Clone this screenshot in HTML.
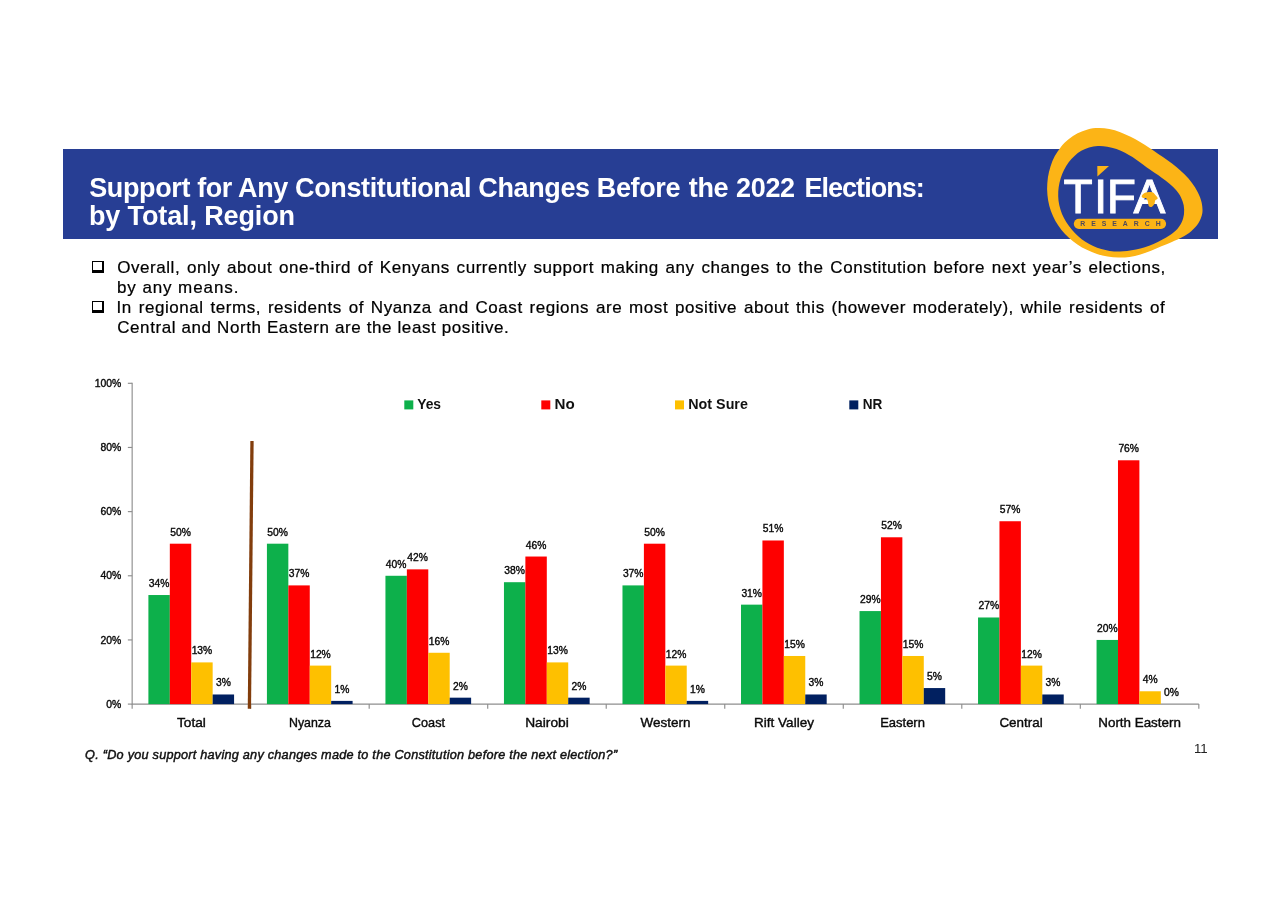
<!DOCTYPE html>
<html lang="en"><head><meta charset="utf-8"><title>Support for Any Constitutional Changes Before the 2022 Elections</title>
<style>
html,body{margin:0;padding:0;background:#fff}
body{width:1280px;height:905px;position:relative;overflow:hidden;font-family:"Liberation Sans",sans-serif;color:#000}
.abs{position:absolute;white-space:nowrap;line-height:1}
.banner{position:absolute;left:62.9px;top:149.4px;width:1155.1px;height:89.3px;background:#273e94}
.title{color:#fff;font-weight:bold;font-size:27px}
.body{font-size:17px;color:#000;-webkit-text-stroke:0.22px #000}
.just{width:1048.6px;text-align:justify;text-align-last:justify;white-space:normal}
.cb{position:absolute;box-sizing:border-box;width:12.5px;height:12px;border-style:solid;border-color:#000;border-width:1.3px 2.8px 3px 1.3px;background:#fff}
.foot{font-size:12.7px;font-style:italic;color:#111;letter-spacing:0.235px;-webkit-text-stroke:0.45px #111}
svg{position:absolute;left:0;top:0}
svg text{font-family:"Liberation Sans",sans-serif}
.dl{font-size:10.3px;fill:#0a0a0a;text-anchor:middle;stroke:#0a0a0a;stroke-width:0.38px}
.yl{font-size:10.4px;fill:#0a0a0a;text-anchor:end;stroke:#0a0a0a;stroke-width:0.38px}
.cl{font-size:13.4px;fill:#0a0a0a;text-anchor:middle;stroke:#0a0a0a;stroke-width:0.4px}
.lg{font-size:15px;font-weight:bold;fill:#111}
</style></head><body>
<div class="banner"></div>
<div class="abs title" id="t1" style="left:89.2px;top:174.5px;letter-spacing:-0.38px">Support for Any Constitutional Changes Before <span style="margin-left:1.6px">the</span> <span style="margin-left:0.8px">2022</span> <span style="margin-left:2.6px;letter-spacing:-0.95px">Elections:</span></div>
<div class="abs title" id="t2" style="left:88.9px;top:202.5px;letter-spacing:-0.12px">by Total, Region</div>
<div class="cb" style="left:91.5px;top:260.6px"></div>
<div class="cb" style="left:91.5px;top:300.8px"></div>
<div class="abs body just" id="b1" style="left:117.2px;top:258.9px;letter-spacing:0.55px">Overall, only about one-third of Kenyans currently support making any changes to the Constitution before next year’s elections,</div>
<div class="abs body" id="b2" style="left:117px;top:278.9px;letter-spacing:0.9px">by any means.</div>
<div class="abs body just" id="b3" style="left:116.6px;top:298.9px;letter-spacing:0.55px">In regional terms, residents of Nyanza and Coast regions are most positive about this (however moderately), while residents of</div>
<div class="abs body" id="b4" style="left:117.2px;top:319.1px;letter-spacing:0.6px">Central and North Eastern are the least positive.</div>
<div class="abs foot" id="fn" style="left:85.1px;top:749.4px">Q. “Do you support having any changes made to the Constitution before the next election?”</div>
<div class="abs" id="pn" style="left:1194px;top:741.8px;font-size:13.2px;color:#222">11</div>

<svg width="1280" height="905" viewBox="0 0 1280 905">
<g stroke="#8e8e8e" stroke-width="1.15" fill="none">
<path d="M132.15 382.8V704.1H1198.83"/>
<path d="M127.85000000000001 704.10H132.15"/>
<path d="M127.85000000000001 639.94H132.15"/>
<path d="M127.85000000000001 575.78H132.15"/>
<path d="M127.85000000000001 511.62H132.15"/>
<path d="M127.85000000000001 447.46H132.15"/>
<path d="M127.85000000000001 383.30H132.15"/>
<path d="M132.15 704.1V708.7"/>
<path d="M250.67 704.1V708.7"/>
<path d="M369.19 704.1V708.7"/>
<path d="M487.71 704.1V708.7"/>
<path d="M606.23 704.1V708.7"/>
<path d="M724.75 704.1V708.7"/>
<path d="M843.27 704.1V708.7"/>
<path d="M961.79 704.1V708.7"/>
<path d="M1080.31 704.1V708.7"/>
<path d="M1198.83 704.1V708.7"/>
</g>
<text class="yl" x="121.3" y="707.70">0%</text>
<text class="yl" x="121.3" y="643.54">20%</text>
<text class="yl" x="121.3" y="579.38">40%</text>
<text class="yl" x="121.3" y="515.22">60%</text>
<text class="yl" x="121.3" y="451.06">80%</text>
<text class="yl" x="121.3" y="386.90">100%</text>
<rect x="148.40" y="595.03" width="21.42" height="109.07" fill="#0db04b"/>
<text class="dl" x="159.11" y="587.03">34%</text>
<rect x="169.82" y="543.70" width="21.42" height="160.40" fill="#fe0000"/>
<text class="dl" x="180.53" y="535.70">50%</text>
<rect x="191.24" y="662.40" width="21.42" height="41.70" fill="#fec000"/>
<text class="dl" x="201.95" y="654.40">13%</text>
<rect x="212.66" y="694.48" width="21.42" height="9.62" fill="#012060"/>
<text class="dl" x="223.37" y="686.48">3%</text>
<text class="cl" x="191.41" y="727.1" textLength="28.90" lengthAdjust="spacingAndGlyphs">Total</text>
<rect x="266.92" y="543.70" width="21.42" height="160.40" fill="#0db04b"/>
<text class="dl" x="277.63" y="535.70">50%</text>
<rect x="288.34" y="585.40" width="21.42" height="118.70" fill="#fe0000"/>
<text class="dl" x="299.05" y="577.40">37%</text>
<rect x="309.76" y="665.60" width="21.42" height="38.50" fill="#fec000"/>
<text class="dl" x="320.47" y="657.60">12%</text>
<rect x="331.18" y="700.89" width="21.42" height="3.21" fill="#012060"/>
<text class="dl" x="341.89" y="692.89">1%</text>
<text class="cl" x="309.93" y="727.1" textLength="41.90" lengthAdjust="spacingAndGlyphs">Nyanza</text>
<rect x="385.44" y="575.78" width="21.42" height="128.32" fill="#0db04b"/>
<text class="dl" x="396.15" y="567.78">40%</text>
<rect x="406.86" y="569.36" width="21.42" height="134.74" fill="#fe0000"/>
<text class="dl" x="417.57" y="561.36">42%</text>
<rect x="428.28" y="652.77" width="21.42" height="51.33" fill="#fec000"/>
<text class="dl" x="438.99" y="644.77">16%</text>
<rect x="449.70" y="697.68" width="21.42" height="6.42" fill="#012060"/>
<text class="dl" x="460.41" y="689.68">2%</text>
<text class="cl" x="428.45" y="727.1" textLength="33.20" lengthAdjust="spacingAndGlyphs">Coast</text>
<rect x="503.96" y="582.20" width="21.42" height="121.90" fill="#0db04b"/>
<text class="dl" x="514.67" y="574.20">38%</text>
<rect x="525.38" y="556.53" width="21.42" height="147.57" fill="#fe0000"/>
<text class="dl" x="536.09" y="548.53">46%</text>
<rect x="546.80" y="662.40" width="21.42" height="41.70" fill="#fec000"/>
<text class="dl" x="557.51" y="654.40">13%</text>
<rect x="568.22" y="697.68" width="21.42" height="6.42" fill="#012060"/>
<text class="dl" x="578.93" y="689.68">2%</text>
<text class="cl" x="546.97" y="727.1" textLength="43.60" lengthAdjust="spacingAndGlyphs">Nairobi</text>
<rect x="622.48" y="585.40" width="21.42" height="118.70" fill="#0db04b"/>
<text class="dl" x="633.19" y="577.40">37%</text>
<rect x="643.90" y="543.70" width="21.42" height="160.40" fill="#fe0000"/>
<text class="dl" x="654.61" y="535.70">50%</text>
<rect x="665.32" y="665.60" width="21.42" height="38.50" fill="#fec000"/>
<text class="dl" x="676.03" y="657.60">12%</text>
<rect x="686.74" y="700.89" width="21.42" height="3.21" fill="#012060"/>
<text class="dl" x="697.45" y="692.89">1%</text>
<text class="cl" x="665.49" y="727.1" textLength="49.90" lengthAdjust="spacingAndGlyphs">Western</text>
<rect x="741.00" y="604.65" width="21.42" height="99.45" fill="#0db04b"/>
<text class="dl" x="751.71" y="596.65">31%</text>
<rect x="762.42" y="540.49" width="21.42" height="163.61" fill="#fe0000"/>
<text class="dl" x="773.13" y="532.49">51%</text>
<rect x="783.84" y="655.98" width="21.42" height="48.12" fill="#fec000"/>
<text class="dl" x="794.55" y="647.98">15%</text>
<rect x="805.26" y="694.48" width="21.42" height="9.62" fill="#012060"/>
<text class="dl" x="815.97" y="686.48">3%</text>
<text class="cl" x="784.01" y="727.1" textLength="59.80" lengthAdjust="spacingAndGlyphs">Rift Valley</text>
<rect x="859.52" y="611.07" width="21.42" height="93.03" fill="#0db04b"/>
<text class="dl" x="870.23" y="603.07">29%</text>
<rect x="880.94" y="537.28" width="21.42" height="166.82" fill="#fe0000"/>
<text class="dl" x="891.65" y="529.28">52%</text>
<rect x="902.36" y="655.98" width="21.42" height="48.12" fill="#fec000"/>
<text class="dl" x="913.07" y="647.98">15%</text>
<rect x="923.78" y="688.06" width="21.42" height="16.04" fill="#012060"/>
<text class="dl" x="934.49" y="680.06">5%</text>
<text class="cl" x="902.53" y="727.1" textLength="44.80" lengthAdjust="spacingAndGlyphs">Eastern</text>
<rect x="978.04" y="617.48" width="21.42" height="86.62" fill="#0db04b"/>
<text class="dl" x="988.75" y="609.48">27%</text>
<rect x="999.46" y="521.24" width="21.42" height="182.86" fill="#fe0000"/>
<text class="dl" x="1010.17" y="513.24">57%</text>
<rect x="1020.88" y="665.60" width="21.42" height="38.50" fill="#fec000"/>
<text class="dl" x="1031.59" y="657.60">12%</text>
<rect x="1042.30" y="694.48" width="21.42" height="9.62" fill="#012060"/>
<text class="dl" x="1053.01" y="686.48">3%</text>
<text class="cl" x="1021.05" y="727.1" textLength="43.20" lengthAdjust="spacingAndGlyphs">Central</text>
<rect x="1096.56" y="639.94" width="21.42" height="64.16" fill="#0db04b"/>
<text class="dl" x="1107.27" y="631.94">20%</text>
<rect x="1117.98" y="460.29" width="21.42" height="243.81" fill="#fe0000"/>
<text class="dl" x="1128.69" y="452.29">76%</text>
<rect x="1139.40" y="691.27" width="21.42" height="12.83" fill="#fec000"/>
<text class="dl" x="1150.11" y="683.27">4%</text>
<text class="dl" x="1171.53" y="696.10">0%</text>
<text class="cl" x="1139.57" y="727.1" textLength="82.60" lengthAdjust="spacingAndGlyphs">North Eastern</text>
<path d="M252 441L249.4 708.8" stroke="#823d0c" stroke-width="3.3" fill="none"/>
<rect x="404.3" y="400.4" width="9" height="9" fill="#0db04b"/>
<text class="lg" x="417.2" y="409.3" textLength="23.9" lengthAdjust="spacingAndGlyphs">Yes</text>
<rect x="541.3" y="400.4" width="9" height="9" fill="#fe0000"/>
<text class="lg" x="554.5" y="409.3" textLength="20.2" lengthAdjust="spacingAndGlyphs">No</text>
<rect x="675" y="400.4" width="9" height="9" fill="#fec000"/>
<text class="lg" x="688.3" y="409.3" textLength="59.6" lengthAdjust="spacingAndGlyphs">Not Sure</text>
<rect x="849.3" y="400.4" width="9" height="9" fill="#012060"/>
<text class="lg" x="862.8" y="409.3" textLength="19.6" lengthAdjust="spacingAndGlyphs">NR</text>
</svg>

<svg id="logo" width="1280" height="905" viewBox="0 0 1280 905">
<path d="M1098.3 128.1C1101.9 128.0 1105.7 128.4 1109.3 129.1C1113.0 129.8 1116.7 131.0 1120.3 132.2C1123.8 133.5 1127.3 135.1 1130.6 136.7C1134.0 138.3 1137.0 140.1 1140.1 142.0C1143.2 143.8 1146.1 145.8 1149.2 147.8C1152.2 149.8 1155.3 151.8 1158.3 153.9C1161.4 155.9 1164.5 158.0 1167.5 160.2C1170.5 162.4 1173.6 164.7 1176.4 167.1C1179.3 169.5 1182.1 171.9 1184.7 174.6C1187.3 177.2 1189.8 180.0 1192.0 183.0C1194.2 185.9 1196.2 189.1 1197.9 192.4C1199.5 195.7 1201.0 199.3 1201.7 202.7C1202.4 206.2 1202.8 209.9 1202.3 213.3C1201.7 216.6 1200.3 220.1 1198.5 223.1C1196.7 226.1 1194.0 229.0 1191.2 231.3C1188.5 233.7 1185.2 235.6 1182.0 237.3C1178.8 239.1 1175.3 240.4 1171.9 241.9C1168.4 243.3 1164.9 244.8 1161.4 246.3C1157.9 247.7 1154.5 249.4 1151.0 250.8C1147.4 252.2 1143.9 253.6 1140.4 254.6C1136.8 255.7 1133.1 256.5 1129.5 257.0C1125.9 257.4 1122.2 257.6 1118.5 257.5C1114.9 257.5 1111.2 257.1 1107.6 256.5C1104.0 255.9 1100.4 255.0 1097.0 253.9C1093.5 252.8 1090.1 251.4 1086.8 249.8C1083.6 248.3 1080.4 246.5 1077.4 244.4C1074.4 242.4 1071.5 240.2 1068.9 237.8C1066.2 235.3 1063.7 232.7 1061.5 229.9C1059.2 227.1 1057.2 224.1 1055.4 221.0C1053.7 217.9 1052.1 214.5 1050.9 211.1C1049.7 207.7 1048.7 204.0 1048.1 200.3C1047.5 196.7 1047.2 192.8 1047.1 189.0C1047.1 185.2 1047.4 181.4 1047.9 177.6C1048.5 173.8 1049.3 170.1 1050.5 166.5C1051.6 162.9 1053.1 159.4 1054.8 156.1C1056.6 152.8 1058.6 149.7 1060.9 146.9C1063.2 144.1 1065.8 141.4 1068.6 139.2C1071.4 136.9 1074.4 134.9 1077.6 133.3C1080.7 131.7 1084.1 130.4 1087.6 129.5C1091.0 128.6 1094.6 128.1 1098.3 128.1Z" fill="#fcb416"/>
<path d="M1097.8 146.0C1100.8 145.8 1104.0 146.1 1107.2 146.7C1110.3 147.2 1113.5 148.1 1116.5 149.1C1119.4 150.1 1122.3 151.4 1125.0 152.7C1127.7 154.1 1130.1 155.6 1132.5 157.1C1134.9 158.7 1137.1 160.4 1139.5 162.1C1141.8 163.8 1144.0 165.6 1146.5 167.3C1148.9 169.0 1151.5 170.8 1154.1 172.6C1156.7 174.3 1159.4 176.1 1162.0 177.9C1164.5 179.8 1167.2 181.7 1169.5 183.7C1171.8 185.7 1174.1 187.8 1176.0 190.1C1177.9 192.3 1179.7 194.7 1180.9 197.2C1182.2 199.8 1183.1 202.6 1183.7 205.3C1184.2 208.1 1184.3 211.1 1184.0 213.9C1183.6 216.7 1182.9 219.6 1181.8 222.1C1180.6 224.7 1179.0 227.2 1177.1 229.3C1175.1 231.5 1172.6 233.3 1170.1 235.1C1167.6 236.8 1164.8 238.3 1162.0 239.8C1159.2 241.3 1156.4 242.6 1153.5 243.9C1150.6 245.1 1147.7 246.2 1144.8 247.2C1141.9 248.1 1138.9 248.9 1136.0 249.6C1133.0 250.2 1130.1 250.8 1127.1 251.1C1124.2 251.4 1121.3 251.6 1118.4 251.5C1115.5 251.5 1112.6 251.3 1109.7 250.9C1106.9 250.5 1104.1 249.9 1101.3 249.1C1098.5 248.2 1095.8 247.2 1093.2 246.0C1090.5 244.8 1087.9 243.3 1085.4 241.7C1082.9 240.1 1080.4 238.2 1078.2 236.2C1075.9 234.1 1073.7 231.9 1071.7 229.6C1069.7 227.2 1067.8 224.7 1066.2 222.1C1064.6 219.5 1063.2 216.8 1062.0 214.0C1060.9 211.1 1059.9 208.2 1059.3 205.3C1058.6 202.3 1058.3 199.2 1058.2 196.2C1058.1 193.2 1058.3 190.1 1058.7 187.1C1059.1 184.1 1059.8 181.1 1060.7 178.2C1061.6 175.4 1062.7 172.5 1064.0 169.9C1065.4 167.2 1066.9 164.7 1068.7 162.3C1070.4 160.0 1072.3 157.8 1074.5 155.9C1076.6 154.0 1078.9 152.2 1081.3 150.8C1083.8 149.4 1086.4 148.2 1089.1 147.4C1091.9 146.6 1094.8 146.1 1097.8 146.0Z" fill="#273e94"/>
<text x="1063.4 1093.9 1106.8 1133.6" y="213" font-size="47.8" fill="#fff" stroke="#fff" stroke-width="0.9" style="font-family:'Liberation Sans',sans-serif">TIFA</text>
<polygon points="1097.3,166.1 1109,166.1 1097.4,176.6" fill="#fcb416"/>
<path d="M1141.7 196.1C1142.0 195.2 1143.2 193.4 1145.0 192.8C1146.8 192.2 1150.5 191.8 1152.3 192.3C1154.1 192.8 1154.9 194.6 1155.8 195.6C1156.7 196.6 1157.8 197.6 1157.7 198.4C1157.6 199.2 1155.8 199.4 1155.3 200.3C1154.8 201.2 1155.0 203.0 1154.4 204.1C1153.8 205.2 1152.5 206.6 1151.6 206.9C1150.7 207.2 1149.4 206.8 1148.8 205.9C1148.2 205.0 1148.2 202.6 1147.8 201.3C1147.4 200.1 1147.2 199.0 1146.4 198.4C1145.6 197.8 1143.9 198.4 1143.1 198.0C1142.3 197.6 1141.4 197.0 1141.7 196.1Z" fill="#fcb416"/>
<rect x="1073.8" y="218.7" width="92.3" height="10.2" rx="5.1" fill="#fcb416"/>
<text x="1080.3" y="226.2" font-size="6.9" font-weight="bold" fill="#4f4a5c" letter-spacing="5.95" style="font-family:'Liberation Sans',sans-serif">RESEARCH</text>
</svg>
</body></html>
